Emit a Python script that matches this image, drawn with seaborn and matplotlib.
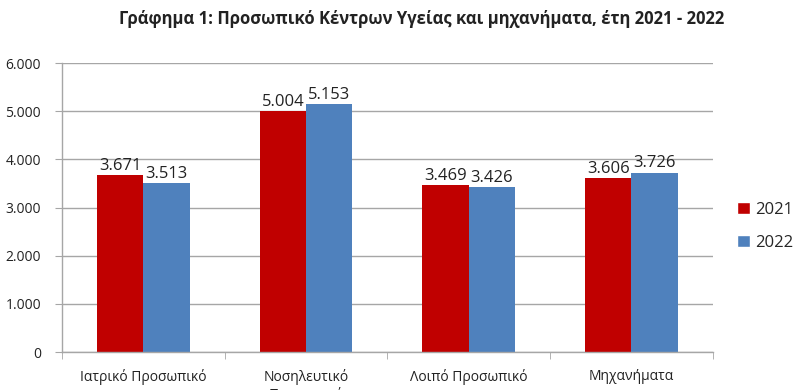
import matplotlib
matplotlib.use("Agg")
import matplotlib.pyplot as plt
import seaborn as sns
import pandas as pd
from matplotlib.ticker import FuncFormatter, FixedLocator
from matplotlib.patches import Patch

categories = ["Ιατρικό Προσωπικό", "Νοσηλευτικό\nΠροσωπικό", "Λοιπό Προσωπικό", "Μηχανήματα"]
years = ["2021", "2022"]
values_2021 = [3671, 5004, 3469, 3606]
values_2022 = [3513, 5153, 3426, 3726]
colors = ["#C00000", "#4F81BD"]
title = "Γράφημα 1: Προσωπικό Κέντρων Υγείας και μηχανήματα, έτη 2021 - 2022"

df = pd.DataFrame({
    "cat": categories * 2,
    "year": [years[0]] * 4 + [years[1]] * 4,
    "val": values_2021 + values_2022,
})

sns.set_style("white")
plt.rcParams["font.family"] = ["Open Sans", "DejaVu Sans"]

fig = plt.figure(figsize=(8, 3.9), dpi=100)
ax = fig.add_axes([0.0775, 0.0974, 0.8135, 0.7406])

sns.barplot(data=df, x="cat", y="val", hue="year", palette=colors,
            width=0.57, gap=0, ax=ax, legend=False, saturation=1, linewidth=0)

fmt = lambda v: f"{int(round(v)):,}".replace(",", ".")
for cont in ax.containers:
    ax.bar_label(cont, labels=[fmt(b.get_height()) for b in cont], padding=1,
                 fontsize=12, color="#222222")

ax.set_ylim(0, 6000)
ax.set_xlim(-0.5, 3.5)
ax.set_yticks(range(0, 6001, 1000))
ax.yaxis.set_major_formatter(FuncFormatter(lambda v, p: fmt(v)))
ax.yaxis.grid(True, color="#a6a6a6", linewidth=1)
ax.set_axisbelow(True)
ax.set_xlabel("")
ax.set_ylabel("")

ax.xaxis.set_minor_locator(FixedLocator([-0.5, 0.5, 1.5, 2.5, 3.5]))
ax.tick_params(axis="x", which="major", length=0, labelsize=10, pad=12, colors="#222222")
ax.tick_params(axis="x", which="minor", length=5, color="#a6a6a6", bottom=True)
ax.tick_params(axis="y", which="major", length=5, left=True, pad=10,
               labelsize=10, labelcolor="#222222", color="#a6a6a6")

for s in ["top", "right"]:
    ax.spines[s].set_visible(False)
for s in ["left", "bottom"]:
    ax.spines[s].set_color("#a6a6a6")
    ax.spines[s].set_linewidth(1)

handles = [Patch(facecolor=c, label=y) for c, y in zip(colors, years)]
fig.legend(handles=handles, loc="center left", bbox_to_anchor=(0.903, 0.42),
           frameon=False, fontsize=12, handlelength=0.75, handleheight=0.75,
           handletextpad=0.3, labelspacing=1.0)

fig.text(0.527, 0.95, title, ha="center", va="center", fontsize=12, fontweight="bold",
         color="#222222")

fig.savefig("out.png", dpi=100)
